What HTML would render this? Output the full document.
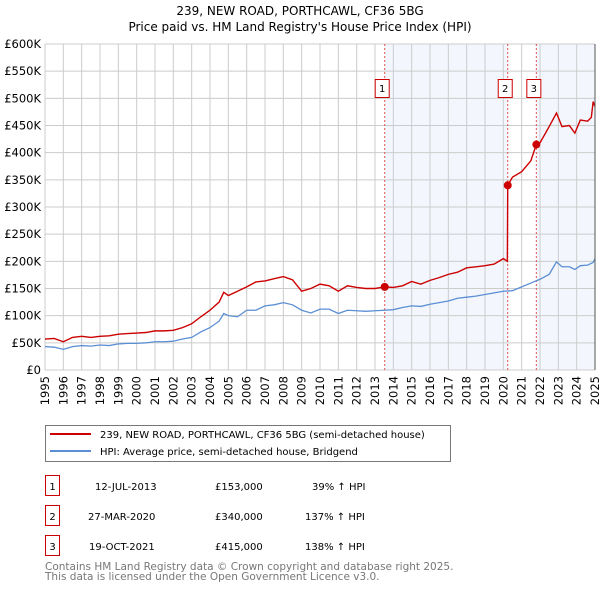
<!DOCTYPE html>
<html><head><meta charset="utf-8"><style>
body{margin:0;background:#fff;width:600px;height:590px;overflow:hidden;font-family:"DejaVu Sans","Liberation Sans",sans-serif}
svg text{font-family:"DejaVu Sans","Liberation Sans",sans-serif}
</style></head><body>
<svg id="c" width="600" height="590" xmlns="http://www.w3.org/2000/svg">
<text x="300" y="15" text-anchor="middle" font-size="12" fill="#000">239, NEW ROAD, PORTHCAWL, CF36 5BG</text>
<text x="300" y="31" text-anchor="middle" font-size="12" fill="#000">Price paid vs. HM Land Registry's House Price Index (HPI)</text>
<g id="plot"></g>
<rect x="45.5" y="425.5" width="405" height="36" fill="#fff" stroke="#777"/>
<line x1="50" y1="434" x2="91" y2="434" stroke="#cc0000" stroke-width="2"/>
<text x="100" y="438" font-size="10">239, NEW ROAD, PORTHCAWL, CF36 5BG (semi-detached house)</text>
<line x1="50" y1="451" x2="91" y2="451" stroke="#5b8fd4" stroke-width="2"/>
<text x="100" y="455" font-size="10">HPI: Average price, semi-detached house, Bridgend</text>
<g font-size="10" fill="#000">
<rect x="45.5" y="475.5" width="14" height="20" fill="none" stroke="#cc0000"/><text x="52.5" y="490" text-anchor="middle">1</text>
<text x="95" y="490">12-JUL-2013</text><text x="215" y="490">£153,000</text><text x="312" y="490">39% ↑ HPI</text>
<rect x="45.5" y="505.5" width="14" height="20" fill="none" stroke="#cc0000"/><text x="52.5" y="520" text-anchor="middle">2</text>
<text x="88" y="520">27-MAR-2020</text><text x="215" y="520">£340,000</text><text x="305" y="520">137% ↑ HPI</text>
<rect x="45.5" y="535.5" width="14" height="20" fill="none" stroke="#cc0000"/><text x="52.5" y="550" text-anchor="middle">3</text>
<text x="89" y="550">19-OCT-2021</text><text x="215" y="550">£415,000</text><text x="305" y="550">138% ↑ HPI</text>
</g>
<text x="45" y="570" font-size="10.5" fill="#777">Contains HM Land Registry data © Crown copyright and database right 2025.</text>
<text x="45" y="580" font-size="10.5" fill="#777">This data is licensed under the Open Government Licence v3.0.</text>
</svg>
<script>
const yTicks=[0,50,100,150,200,250,300,350,400,450,500,550,600];
const yLabels=["£0","£50K","£100K","£150K","£200K","£250K","£300K","£350K","£400K","£450K","£500K","£550K","£600K"];
const xYears=[1995,1996,1997,1998,1999,2000,2001,2002,2003,2004,2005,2006,2007,2008,2009,2010,2011,2012,2013,2014,2015,2016,2017,2018,2019,2020,2021,2022,2023,2024,2025];
const saleYears=[2013.53,2020.24,2021.8];
const salePrices=[153,340,415];
const hpiX=[1995,1995.5,1996,1996.5,1997,1997.5,1998,1998.5,1999,1999.5,2000,2000.5,2001,2001.5,2002,2002.5,2003,2003.5,2004,2004.5,2004.75,2005,2005.5,2006,2006.5,2007,2007.5,2008,2008.5,2009,2009.5,2010,2010.5,2011,2011.5,2012,2012.5,2013,2013.5,2014,2014.5,2015,2015.5,2016,2016.5,2017,2017.5,2018,2018.5,2019,2019.5,2020,2020.5,2021,2021.5,2022,2022.5,2022.9,2023.2,2023.6,2023.9,2024.2,2024.6,2024.9,2025];
const hpiY=[43,42,38,43,45,44,46,45,48,49,49,50,52,52,53,57,60,70,78,90,104,100,98,110,110,118,120,124,120,110,105,112,112,104,110,109,108,109,110,111,115,118,117,121,124,127,132,134,136,139,142,145,146,153,160,167,176,199,190,190,185,192,193,198,205];
const ppX=[1995,1995.5,1996,1996.5,1997,1997.5,1998,1998.5,1999,1999.5,2000,2000.5,2001,2001.5,2002,2002.5,2003,2003.5,2004,2004.5,2004.75,2005,2005.5,2006,2006.5,2007,2007.5,2008,2008.5,2009,2009.5,2010,2010.5,2011,2011.5,2012,2012.5,2013,2013.53,2014,2014.5,2015,2015.5,2016,2016.5,2017,2017.5,2018,2018.5,2019,2019.5,2020,2020.22,2020.24,2020.5,2021,2021.5,2021.8,2022,2022.5,2022.9,2023.2,2023.6,2023.9,2024.2,2024.6,2024.8,2024.9,2025];
const ppY=[57,58,52,60,62,60,62,63,66,67,68,69,72,72,73,78,85,98,110,125,143,137,145,153,162,164,168,172,166,145,150,158,155,145,155,152,150,150,153,152,155,163,158,165,170,176,180,188,190,192,195,205,200,340,355,365,385,415,418,448,473,448,450,436,460,458,465,494,485];
const L=45,R=595,T=44,B=370,x0=1995,x1=2025;
const X=v=>L+(v-x0)/(x1-x0)*(R-L);
const Y=v=>B-v/600*(B-T);
const NS="http://www.w3.org/2000/svg";
const g=document.getElementById('plot');
function mk(t,a,p){const e=document.createElementNS(NS,t);for(const k in a)e.setAttribute(k,a[k]);(p||g).appendChild(e);return e;}
let s1=mk('rect',{x:X(saleYears[0]),y:T,width:X(saleYears[1])-X(saleYears[0]),height:B-T,fill:'#f3f6fd'});


let s2=mk('rect',{x:X(saleYears[2]),y:T,width:R-X(saleYears[2]),height:B-T,fill:'#f3f6fd'});


yTicks.forEach((v,i)=>{
  let l=mk('line',{x1:L,x2:R,y1:Y(v),y2:Y(v),stroke:'#ccc','stroke-width':1});
  
  
  let t=mk('text',{x:L-4,y:Y(v)+4,'text-anchor':'end','font-size':11.5,fill:'#000'});
  t.textContent=yLabels[i];
  
  
});
xYears.forEach(v=>{
  let l=mk('line',{x1:X(v),x2:X(v),y1:T,y2:B,stroke:'#ccc','stroke-width':1});
  
  
  let t=mk('text',{x:0,y:0,'text-anchor':'end','font-size':11.5,fill:'#000',transform:`translate(${X(v)+4},${B+6}) rotate(-90)`});
  t.textContent=v;
  
  
});
saleYears.forEach((v,i)=>{
  let l=mk('line',{x1:X(v),x2:X(v),y1:T,y2:B,stroke:'#e05050','stroke-width':1,'stroke-dasharray':'2,2'});
  
  
  let r=mk('rect',{x:X(v)-9.5,y:79.5,width:14,height:18,fill:'#fff',stroke:'#cc0000'});
  
  
  let t=mk('text',{x:X(v)-2.5,y:92,'text-anchor':'middle','font-size':10});
  t.textContent=i+1;
  
  
});
let hp=mk('polyline',{points:hpiX.map((v,i)=>X(v)+','+Y(hpiY[i])).join(' '),fill:'none',stroke:'#5b8fd4','stroke-width':1.3});


let pp=mk('polyline',{points:ppX.map((v,i)=>X(v)+','+Y(ppY[i])).join(' '),fill:'none',stroke:'#cc0000','stroke-width':1.4});


saleYears.forEach((v,i)=>{
  let c=mk('circle',{cx:X(v),cy:Y(salePrices[i]),r:4,fill:'#cc0000'});
  
  
});
let ax=mk('line',{x1:R,x2:R,y1:T,y2:B,stroke:'#555','stroke-width':1});


</script>
</body></html>
